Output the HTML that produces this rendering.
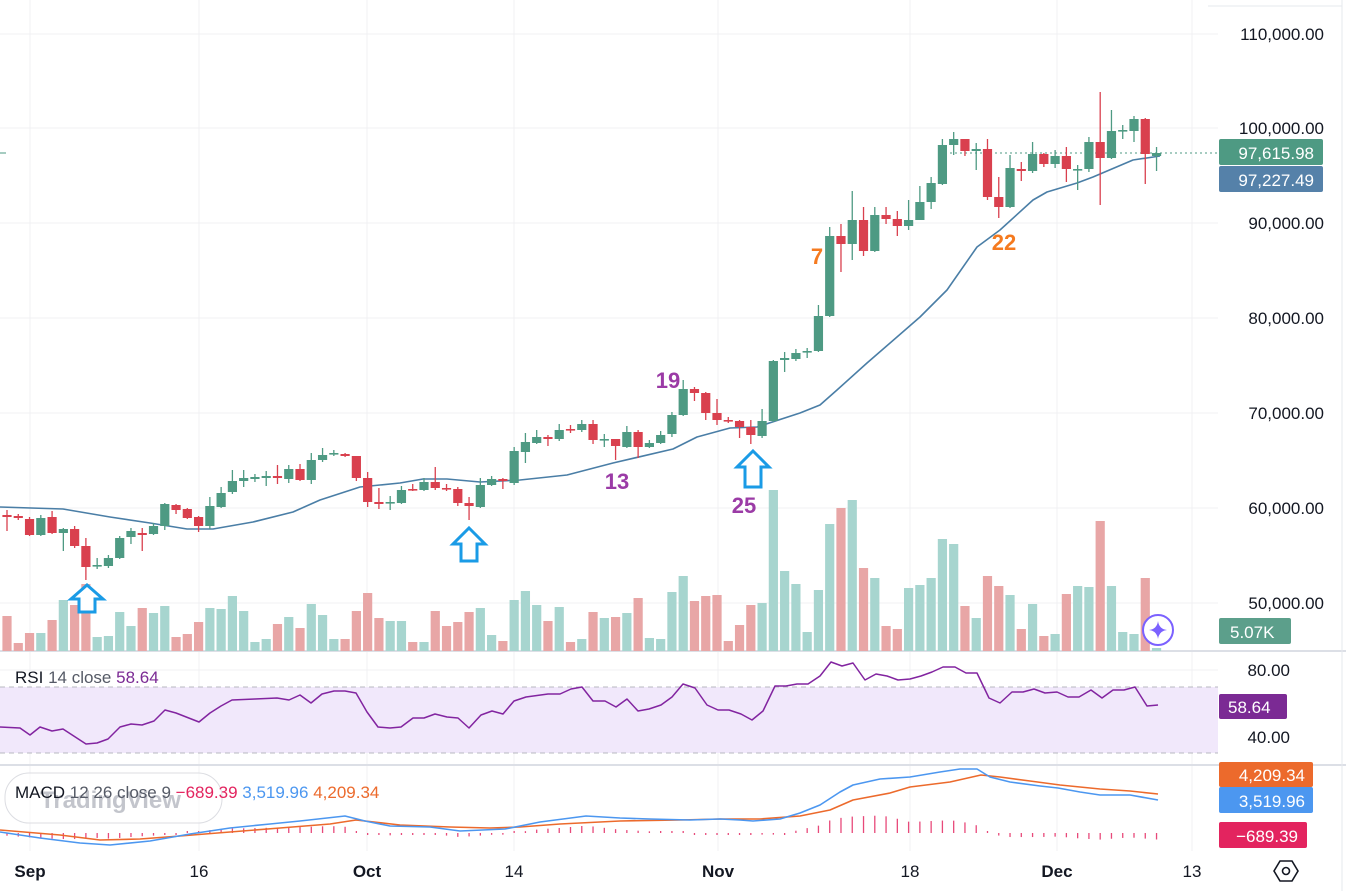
<!DOCTYPE html>
<html><head><meta charset="utf-8">
<style>
html,body{margin:0;padding:0;background:#fff;width:1346px;height:891px;overflow:hidden}
svg{display:block}
text{font-family:"Liberation Sans",sans-serif}
</style></head>
<body>
<svg id="s" width="1346" height="891" viewBox="0 0 1346 891" xmlns="http://www.w3.org/2000/svg">
<rect width="1346" height="891" fill="#fff"/>
<g id="grid" stroke="#f0f1f3" stroke-width="1"></g>
<rect x="0" y="687" width="1218" height="66" fill="#f1e8fb"/>
<line x1="0" y1="687" x2="1218" y2="687" stroke="#b8b8c0" stroke-dasharray="5,4"/>
<line x1="0" y1="753" x2="1218" y2="753" stroke="#b8b8c0" stroke-dasharray="5,4"/>
<line x1="0" y1="651" x2="1346" y2="651" stroke="#dcdfe6" stroke-width="2"/>
<line x1="0" y1="765" x2="1346" y2="765" stroke="#dcdfe6" stroke-width="2"/>
<line x1="1342" y1="0" x2="1342" y2="891" stroke="#e6e8ee"/>
<line x1="1208" y1="6" x2="1342" y2="6" stroke="#e6e8ee"/>
<g id="vol"></g>
<line x1="945" y1="153" x2="1218" y2="153" stroke="#4e9a83" stroke-dasharray="2,3"/>
<g id="ma"></g>
<g id="cdl"></g>
<line x1="0" y1="153" x2="6" y2="153" stroke="#4e9a83"/>
<g id="ind"></g>
<g fill="#fff" stroke="#1a9be6" stroke-width="3" stroke-linejoin="miter">
<path d="M87,585 L103,599 L95,599 L95,612 L79,612 L79,599 L71,599 Z"/>
<path d="M469,528 L485,544 L477,544 L477,561 L461,561 L461,544 L453,544 Z"/>
<path d="M753,451 L769,467 L761,467 L761,487 L745,487 L745,467 L737,467 Z"/>
</g>
<g font-weight="bold" font-size="22">
<text x="668" y="388" fill="#9b3ba6" text-anchor="middle">19</text>
<text x="617" y="489" fill="#9b3ba6" text-anchor="middle">13</text>
<text x="744" y="513" fill="#9b3ba6" text-anchor="middle">25</text>
<text x="817" y="264" fill="#f57a1f" text-anchor="middle">7</text>
<text x="1004" y="250" fill="#f57a1f" text-anchor="middle">22</text>
</g>
<g font-size="17" fill="#131722" text-anchor="end">
<text x="1324" y="40">110,000.00</text>
<text x="1324" y="134">100,000.00</text>
<text x="1324" y="229">90,000.00</text>
<text x="1324" y="324">80,000.00</text>
<text x="1324" y="419">70,000.00</text>
<text x="1324" y="514">60,000.00</text>
<text x="1324" y="609">50,000.00</text>
<text x="1290" y="676">80.00</text>
<text x="1290" y="743">40.00</text>
</g>
<rect x="1219" y="139" width="104" height="26" rx="2" fill="#4e9a83"/>
<text x="1314" y="159" font-size="17" fill="#fff" text-anchor="end">97,615.98</text>
<rect x="1219" y="166" width="104" height="26" rx="2" fill="#5581a9"/>
<text x="1314" y="186" font-size="17" fill="#fff" text-anchor="end">97,227.49</text>
<rect x="1219" y="618" width="72" height="26" rx="2" fill="#5c9f8b"/>
<text x="1230" y="638" font-size="17" fill="#fff">5.07K</text>
<rect x="1219" y="694" width="68" height="25" rx="2" fill="#7b2a94"/>
<text x="1228" y="713" font-size="17" fill="#fff">58.64</text>
<rect x="1219" y="762" width="94" height="25" rx="2" fill="#ec6a2c"/>
<text x="1305" y="781" font-size="17" fill="#fff" text-anchor="end">4,209.34</text>
<rect x="1219" y="787" width="94" height="26" rx="2" fill="#4c97f0"/>
<text x="1305" y="807" font-size="17" fill="#fff" text-anchor="end">3,519.96</text>
<rect x="1219" y="822" width="88" height="26" rx="2" fill="#e3245f"/>
<text x="1298" y="842" font-size="17" fill="#fff" text-anchor="end">−689.39</text>
<circle cx="1158" cy="630" r="15" fill="#fff" stroke="#7b61ff" stroke-width="2"/>
<path d="M1158,621 Q1159,629 1167,630 Q1159,631 1158,639 Q1157,631 1149,630 Q1157,629 1158,621Z" fill="#7b61ff"/>
<text x="15" y="683" font-size="17"><tspan fill="#131722">RSI</tspan><tspan fill="#555a66"> 14 close </tspan><tspan fill="#7b2a94"> 58.64</tspan></text>
<rect x="5" y="773" width="217" height="50" rx="24" fill="#fff" fill-opacity="0.6" stroke="#dcdde2"/>
<text x="40" y="808" font-size="24" fill="#c3c5cc" font-weight="bold">TradingView</text>
<text x="15" y="798" font-size="17"><tspan fill="#131722">MACD</tspan><tspan fill="#555a66"> 12 26 close 9 </tspan><tspan fill="#e3245f"> −689.39 </tspan><tspan fill="#4c97f0"> 3,519.96 </tspan><tspan fill="#ec6a2c"> 4,209.34</tspan></text>
<g font-size="17" fill="#131722" text-anchor="middle">
<text x="30" y="877" font-weight="bold">Sep</text>
<text x="199" y="877">16</text>
<text x="367" y="877" font-weight="bold">Oct</text>
<text x="514" y="877">14</text>
<text x="718" y="877" font-weight="bold">Nov</text>
<text x="910" y="877">18</text>
<text x="1057" y="877" font-weight="bold">Dec</text>
<text x="1192" y="877">13</text>
</g>
<path d="M1274,871 L1280,861 L1292,861 L1298,871 L1292,881 L1280,881 Z" fill="none" stroke="#131722" stroke-width="1.6"/>
<circle cx="1286" cy="871" r="3.5" fill="none" stroke="#131722" stroke-width="1.6"/>
</svg>
<script>
var NS="http://www.w3.org/2000/svg";
function el(p,t,a){var e=document.createElementNS(NS,t);for(var k in a)e.setAttribute(k,a[k]);document.getElementById(p).appendChild(e);return e;}
[34,128,223,318,413,508,603,670,737].forEach(function(y){el("grid","line",{x1:0,y1:y,x2:1218,y2:y});});
[30,199,367,514,718,910,1057,1192].forEach(function(x){el("grid","line",{x1:x,y1:0,x2:x,y2:851});});
var C=[[515,517,510,531],[516,518,514,520],[519,535,517,536],[535,518,515,536],[517,533,511,534],[533,529,528,551],[529,546,526,548],[546,567,538,580],[566,565,558,569],[566,558,555,568],[558,538,536,559],[537,531,528,544],[533,535,528,551],[534,526,523,535],[526,504,503,530],[505,510,504,514],[509,518,508,519],[517,526,516,532],[526,506,497,529],[507,493,487,508],[492,481,470,494],[481,478,470,487],[479,477,474,482],[478,476,471,486],[476,478,465,484],[479,469,465,483],[469,480,464,481],[480,460,453,484],[460,455,448,462],[453,453,450,456],[454,456,453,457],[456,478,456,481],[478,502,472,507],[502,504,488,509],[502,502,496,510],[503,490,486,504],[489,489,484,491],[490,482,478,491],[482,488,467,490],[488,488,484,491],[489,503,487,506],[503,506,497,520],[507,485,478,508],[485,479,476,486],[479,481,478,489],[483,451,447,485],[452,442,433,463],[443,437,430,444],[437,439,435,446],[439,430,424,441],[429,429,425,433],[430,424,420,432],[424,440,420,444],[439,439,434,447],[439,446,439,460],[447,432,426,448],[432,447,430,458],[447,443,440,448],[443,435,431,444],[434,415,412,437],[415,389,380,416],[389,393,387,401],[393,413,392,420],[413,420,399,425],[420,420,417,423],[421,427,420,438],[427,435,420,444],[436,421,409,438],[421,361,360,422],[360,358,352,372],[359,353,349,361],[351,351,348,358],[351,316,305,352],[316,236,227,317],[236,244,224,272],[244,220,191,260],[220,251,207,256],[251,215,207,252],[215,219,207,224],[219,226,211,236],[226,220,200,230],[220,202,186,210],[202,183,177,209],[184,145,139,185],[145,139,132,155],[139,151,139,156],[151,149,143,170],[149,197,139,200],[197,207,177,218],[207,168,155,208],[169,171,162,181],[171,154,142,173],[154,164,153,167],[164,156,150,168],[156,169,147,182],[169,169,165,190],[169,142,137,172],[142,158,92,205],[158,131,110,159],[130,130,125,139],[131,119,116,142],[119,154,118,184],[156,153,147,171]];
var RED=[0,1,2,4,6,7,12,15,16,17,24,26,30,31,32,33,36,38,39,40,41,44,48,50,52,54,56,61,62,63,64,65,66,74,76,78,79,85,87,88,90,92,94,97,101];
var V=[616,643,633,633,620,600,605,584,637,636,612,626,608,613,606,637,634,622,608,609,596,611,642,639,624,617,628,604,615,639,639,611,593,618,621,621,642,642,611,626,622,612,608,635,641,600,591,605,621,607,642,639,612,618,617,613,598,638,639,592,576,601,596,595,641,625,605,603,490,571,584,632,590,524,508,500,568,578,626,629,588,585,578,539,544,606,618,576,586,595,629,604,636,634,594,586,587,521,586,632,634,578,648];
function X(i){return 7+11.27*i;}
for(var i=0;i<C.length;i++){
 var c=C[i],x=X(i),red=RED.indexOf(i)>=0,col=red?"#d9404e":"#4e9a83";
 el("vol","rect",{x:x-4.6,y:V[i],width:9.2,height:651-V[i],fill:red?"#e8a6a6":"#a7d5cf"});
 el("cdl","line",{x1:x,y1:c[2],x2:x,y2:c[3],stroke:col,"stroke-width":1.3});
 var t=Math.min(c[0],c[1]),h=Math.max(Math.abs(c[0]-c[1]),1.6);
 el("cdl","rect",{x:x-4.6,y:t,width:9.2,height:h,fill:col});
}
function pl(p,pts,col,w){el(p,"polyline",{points:pts.map(function(a){return a.join(",")}).join(" "),fill:"none",stroke:col,"stroke-width":w||1.5,"stroke-linejoin":"round"});}
pl("ma",[[0,507],[63,509],[110,517],[150,523],[187,529],[213,529],[253,522],[293,512],[320,500],[360,487],[380,485],[400,483],[423,479],[447,479],[480,482],[520,480],[567,475],[613,463],[673,449],[697,437],[730,428],[757,427],[800,413],[820,405],[837,390],[867,363],[920,317],[947,290],[977,247],[1000,230],[1033,200],[1047,192],[1077,183],[1093,177],[1133,160],[1160,156]],"#4a7ea6",1.6);
var R=[[0,727],[20,728],[30,735],[40,727],[52,731],[63,729],[86,744],[97,743],[108,739],[120,727],[131,724],[142,725],[154,721],[165,710],[176,713],[199,722],[210,713],[221,706],[232,700],[255,699],[277,698],[289,700],[300,695],[311,703],[322,694],[334,691],[345,691],[356,693],[367,712],[378,727],[390,728],[401,727],[413,718],[424,718],[435,714],[447,717],[458,718],[469,728],[481,715],[492,711],[503,714],[514,701],[526,697],[548,694],[560,694],[571,689],[582,687],[593,701],[605,701],[616,707],[627,699],[638,711],[649,709],[661,705],[672,697],[683,684],[695,688],[707,705],[718,710],[729,710],[741,714],[752,720],[763,711],[775,686],[786,686],[797,684],[808,684],[820,676],[831,662],[842,666],[853,663],[865,680],[876,674],[887,676],[898,680],[910,679],[921,676],[932,672],[943,667],[955,667],[966,673],[977,673],[989,698],[1000,703],[1012,692],[1023,692],[1034,689],[1045,693],[1057,692],[1068,697],[1079,697],[1091,690],[1102,698],[1113,690],[1124,690],[1135,687],[1147,706],[1158,705]];
pl("ind",R,"#8224a0",1.5);
var M=[[0,832],[40,838],[80,843],[110,845],[150,841],[190,834],[230,828],[270,824],[300,821],[345,816],[365,821],[390,826],[430,827],[460,831],[505,829],[540,822],[586,816],[620,818],[650,819],[690,820],[720,819],[740,820],[753,821],[780,819],[800,813],[820,805],[840,792],[853,785],[880,779],[910,777],[940,772],[960,769],[977,769],[990,777],[1010,782],[1040,786],[1058,788],[1080,792],[1100,795],[1130,795],[1158,800]];
var S=[[0,830],[60,835],[100,840],[140,839],[180,836],[230,832],[280,828],[330,824],[356,820],[400,825],[450,827],[490,828],[520,827],[560,824],[620,821],[680,820],[720,819],[760,819],[800,816],[830,810],[853,800],[890,793],[910,787],[950,782],[981,775],[1000,777],[1030,781],[1060,785],[1100,789],[1130,791],[1158,794]];
function interp(P,x){for(var k=0;k<P.length-1;k++){if(x<=P[k+1][0]){var a=P[k],b=P[k+1];return a[1]+(b[1]-a[1])*(x-a[0])/(b[0]-a[0]);}}return P[P.length-1][1];}
for(var i=0;i<C.length;i++){var x=X(i),d=(interp(S,x)-interp(M,x))*1.1;var y1=833,y2=833-d;if(Math.abs(d)<1.5)y2=833+(d<0?-2:2)*-1;el("ind","line",{x1:x,y1:y1,x2:x,y2:y2,stroke:"#e8497a","stroke-width":1.3});}
pl("ind",S,"#ec6a2c",1.6);
pl("ind",M,"#4c97f0",1.6);
</script>
</body></html>
